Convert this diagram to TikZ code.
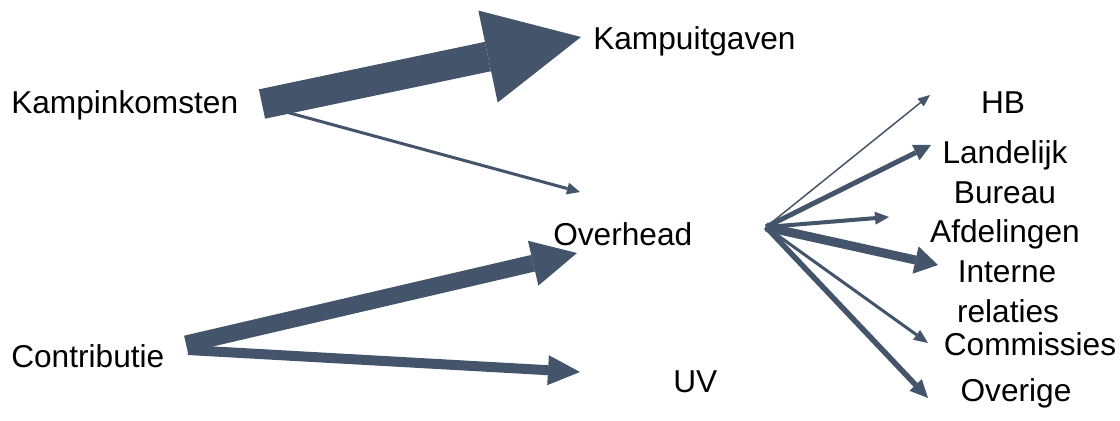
\documentclass[tikz,border=0pt]{standalone}
\usepackage{fontspec}
\setmainfont{Liberation Sans}
\usetikzlibrary{arrows.meta}
\definecolor{flow}{RGB}{68,84,106}
\tikzset{
  lbl/.style={inner sep=0pt, font=\fontsize{22.5}{27}\selectfont, text=black},
  flowarrow/.style n args={3}{draw=flow, line width=#1,
    -{Triangle[width=#2,length=#3,line width=0pt]}}
}
\begin{document}
\begin{tikzpicture}[x=0.025cm,y=-0.025cm]
\useasboundingbox (0,0) rectangle (1120,421);
% labels
\node[lbl,anchor=base west] (kin) at (11,113) {Kampinkomsten};
\node[lbl,anchor=base west] (kuit) at (593,50) {Kampuitgaven};
\node[lbl,anchor=base west] (ovh) at (553,245) {Overhead};
\node[lbl,anchor=base west] (con) at (11,367) {Contributie};
\node[lbl,anchor=base west] (uv) at (673,392) {UV};
\node[lbl,anchor=base] (hb) at (1003,113) {HB};
\node[lbl,anchor=base] (lb1) at (1005,163) {Landelijk};
\node[lbl,anchor=base] (lb2) at (1005,203) {Bureau};
\node[lbl,anchor=base] (afd) at (1005,242) {Afdelingen};
\node[lbl,anchor=base] (ir1) at (1007,282) {Interne};
\node[lbl,anchor=base] (ir2) at (1008,322) {relaties};
\node[lbl,anchor=base] (com) at (1030,355) {Commissies};
\node[lbl,anchor=base] (ovr) at (1016,401) {Overige};
% connector ends
\coordinate (kin-o1) at (262,104);
\coordinate (kuit-i) at (581,37);
\coordinate (kin-o2) at (286,112);
\coordinate (ovh-i1) at (580,192);
\coordinate (con-o1) at (186,344);
\coordinate (ovh-i2) at (577,253);
\coordinate (con-o2) at (188,350);
\coordinate (uv-i) at (580,372);
\coordinate (ovh-o) at (766,227);
\coordinate (hb-i) at (930,95);
\coordinate (lb-i) at (931,145);
\coordinate (afd-i) at (889,217);
\coordinate (ir-i) at (938,265);
\coordinate (com-i) at (928,343);
\coordinate (ovr-i) at (928,398);
% flows
\draw[flowarrow={0.75cm}{2.35cm}{2.375cm}] (kin-o1) -- (kuit-i);
\draw[flowarrow={0.075cm}{0.3cm}{0.325cm}] (kin-o2) -- (ovh-i1);
\draw[flowarrow={0.425cm}{1.15cm}{1.125cm}] (con-o1) -- (ovh-i2);
\draw[flowarrow={0.25cm}{0.75cm}{0.8cm}] (con-o2) -- (uv-i);
\draw[flowarrow={0.0375cm}{0.25cm}{0.3cm}] (ovh-o) -- (hb-i);
\draw[flowarrow={0.125cm}{0.425cm}{0.425cm}] (ovh-o) -- (lb-i);
\draw[flowarrow={0.1cm}{0.325cm}{0.35cm}] (ovh-o) -- (afd-i);
\draw[flowarrow={0.225cm}{0.7cm}{0.575cm}] (ovh-o) -- (ir-i);
\draw[flowarrow={0.075cm}{0.3cm}{0.35cm}] (ovh-o) -- (com-i);
\draw[flowarrow={0.1375cm}{0.425cm}{0.45cm}] (ovh-o) -- (ovr-i);
\end{tikzpicture}
\end{document}
